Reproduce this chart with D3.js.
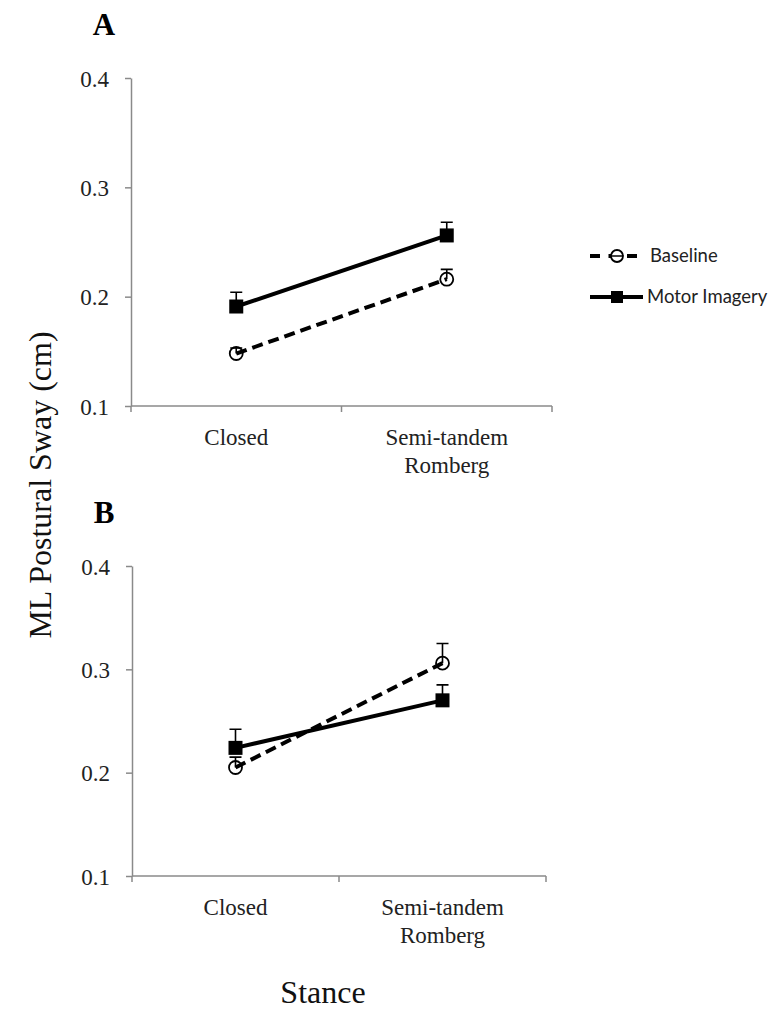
<!DOCTYPE html>
<html lang="en">
<head>
  <meta charset="UTF-8">
  <title>ML Postural Sway</title>
  <style>
    body { margin: 0; background: #fff; }
  </style>
</head>
<body>
  <svg id="svg" width="778" height="1014"></svg>
  <script src="https://d3js.org/d3.v7.min.js"></script>
  <script>
    // data
    const stances = ['Closed', 'Semi-tandem Romberg']
    const yTicks = [0.1, 0.2, 0.3, 0.4]
    const seriesNames = ['Baseline', 'Motor Imagery']
    const baselineA = [0.148, 0.216]
    const baselineErrA = [0.005, 0.009]
    const imageryA = [0.191, 0.256]
    const imageryErrA = [0.013, 0.012]
    const baselineB = [0.205, 0.306]
    const baselineErrB = [0.010, 0.019]
    const imageryB = [0.224, 0.270]
    const imageryErrB = [0.018, 0.015]

    const svg = d3.select('#svg')
    const serif = 'Liberation Serif, Times New Roman, serif'
    const axisColor = '#8a8a8a'

    function panel(letter, top, bottom, left, right, baseVals, baseErr, miVals, miErr) {
      const x = d3.scaleBand().domain(stances).range([left, right])
      const y = d3.scaleLinear().domain([0.1, 0.4]).range([bottom, top])
      const g = svg.append('g')

      // y axis
      const ya = g.append('g')
        .attr('transform', `translate(${left},0)`)
        .call(d3.axisLeft(y).tickValues(yTicks).tickFormat(d3.format('.1f')).tickSize(6).tickSizeOuter(0))
      ya.select('.domain').attr('stroke', axisColor).attr('stroke-width', 1.5)
      ya.selectAll('.tick line').attr('stroke', axisColor).attr('stroke-width', 1.5)
      ya.selectAll('.tick text')
        .attr('x', -22)
        .attr('dy', '0.35em')
        .attr('fill', '#222')
        .style('font-family', serif)
        .style('font-size', '23px')

      // x axis
      g.append('line')
        .attr('x1', left).attr('x2', right)
        .attr('y1', bottom).attr('y2', bottom)
        .attr('stroke', axisColor).attr('stroke-width', 1.5)
      const bounds = [left].concat(stances.map(s => x(s) + x.bandwidth()))
      g.selectAll('.xtick').data(bounds).enter().append('line')
        .attr('x1', d => d).attr('x2', d => d)
        .attr('y1', bottom).attr('y2', bottom + 6)
        .attr('stroke', axisColor).attr('stroke-width', 1.5)

      stances.forEach(s => {
        const words = s === 'Closed' ? ['Closed'] : ['Semi-tandem', 'Romberg']
        const t = g.append('text')
          .attr('x', x(s) + x.bandwidth() / 2)
          .attr('y', bottom + 39)
          .attr('text-anchor', 'middle')
          .attr('fill', '#222')
          .style('font-family', serif)
          .style('font-size', '23px')
        words.forEach((w, i) => {
          t.append('tspan')
            .attr('x', x(s) + x.bandwidth() / 2)
            .attr('dy', i === 0 ? 0 : 28)
            .text(w)
        })
      })

      // panel letter
      g.append('text')
        .attr('x', 104).attr('y', top - 43)
        .attr('text-anchor', 'middle')
        .style('font-family', serif)
        .style('font-weight', 'bold')
        .style('font-size', '31px')
        .text(letter)

      const cx = s => x(s) + x.bandwidth() / 2
      const lineGen = d3.line().x(d => cx(d.s)).y(d => y(d.v))
      const series = [
        { name: seriesNames[0], vals: baseVals, err: baseErr, dash: '11,6' },
        { name: seriesNames[1], vals: miVals, err: miErr, dash: null }
      ]
      series.forEach(sr => {
        const pts = stances.map((s, i) => ({ s: s, v: sr.vals[i], e: sr.err[i] }))
        // error bars (upper only)
        g.selectAll(null).data(pts).enter().append('path')
          .attr('d', d => `M${cx(d.s)},${y(d.v)}V${y(d.v + d.e)}M${cx(d.s) - 6},${y(d.v + d.e)}H${cx(d.s) + 6}`)
          .attr('stroke', '#000').attr('stroke-width', 1.6).attr('fill', 'none')
        g.append('path')
          .attr('d', lineGen(pts))
          .attr('stroke', '#000')
          .attr('stroke-width', 4)
          .attr('stroke-dasharray', sr.dash)
          .attr('fill', 'none')
        if (sr.dash) {
          g.selectAll(null).data(pts).enter().append('circle')
            .attr('cx', d => cx(d.s)).attr('cy', d => y(d.v))
            .attr('r', 6.5)
            .attr('fill', 'none').attr('stroke', '#000').attr('stroke-width', 1.8)
        } else {
          g.selectAll(null).data(pts).enter().append('rect')
            .attr('x', d => cx(d.s) - 7).attr('y', d => y(d.v) - 7)
            .attr('width', 14).attr('height', 14)
            .attr('fill', '#000')
        }
      })
    }

    panel('A', 78, 406, 131, 552, baselineA, baselineErrA, imageryA, imageryErrA)
    panel('B', 566, 876, 132, 546, baselineB, baselineErrB, imageryB, imageryErrB)

    // legend
    const lg = svg.append('g')
    const legendY = [256, 297]
    seriesNames.forEach((n, i) => {
      const yy = legendY[i]
      lg.append('line')
        .attr('x1', 590).attr('x2', 643).attr('y1', yy).attr('y2', yy)
        .attr('stroke', '#000').attr('stroke-width', 4)
        .attr('stroke-dasharray', i === 0 ? '10,8.5' : null)
      if (i === 0) {
        lg.append('circle').attr('cx', 617).attr('cy', yy).attr('r', 6)
          .attr('fill', '#fff').attr('stroke', '#000').attr('stroke-width', 1.8)
        lg.append('line').attr('x1', 611).attr('x2', 623).attr('y1', yy).attr('y2', yy)
          .attr('stroke', '#000').attr('stroke-width', 1.5)
      } else {
        lg.append('rect').attr('x', 611).attr('y', yy - 6).attr('width', 12).attr('height', 12).attr('fill', '#000')
      }
      lg.append('text')
        .attr('x', i === 0 ? 650 : 647).attr('y', yy)
        .attr('dy', '0.35em')
        .attr('fill', '#222')
        .style('font-family', 'Lato, Carlito, sans-serif')
        .style('font-size', '18.5px')
        .text(n)
    })

    // axis titles
    svg.append('text')
      .attr('transform', 'translate(51,485) rotate(-90)')
      .attr('text-anchor', 'middle')
      .attr('fill', '#111')
      .style('font-family', serif)
      .style('font-size', '32px')
      .text('ML Postural Sway (cm)')
    svg.append('text')
      .attr('x', 323).attr('y', 1003)
      .attr('text-anchor', 'middle')
      .attr('fill', '#111')
      .style('font-family', serif)
      .style('font-size', '32px')
      .text('Stance')
  </script>
</body>
</html>
